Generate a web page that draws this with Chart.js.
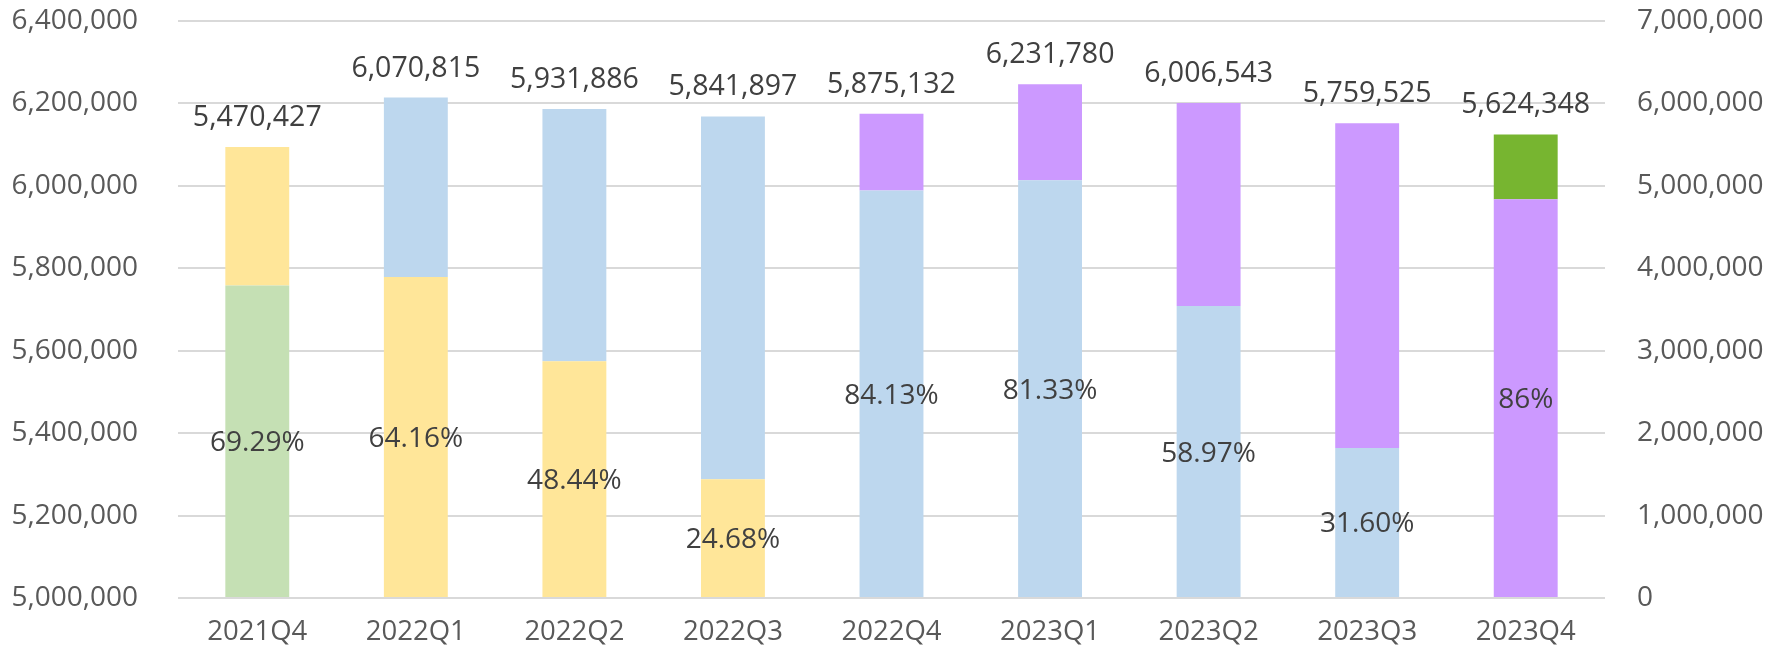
<!DOCTYPE html>
<html>
<head>
<meta charset="utf-8">
<script src="https://cdn.jsdelivr.net/npm/chart.js@4"></script>
<style>
  html, body { margin: 0; padding: 0; background: #fff; }
  #wrap { width: 1781px; height: 655px; }
</style>
</head>
<body>
<div id="wrap"><canvas id="chart"></canvas></div>
<script>
// quarters on the x axis
const categories = ['2021Q4', '2022Q1', '2022Q2', '2022Q3', '2022Q4', '2023Q1', '2023Q2', '2023Q3', '2023Q4'];

// total per quarter (label above each bar)
const totals = [5470427, 6070815, 5931886, 5841897, 5875132, 6231780, 6006543, 5759525, 5624348];

// share of the bottom segment (label inside it)
const shareLabels = ['69.29%', '64.16%', '48.44%', '24.68%', '84.13%', '81.33%', '58.97%', '31.60%', '86%'];

// stacked segments, bottom to top
const lightGreen = [3790459, null, null, null, null, null, null, null, null];
const yellow     = [1679968, 3895035, 2873406, 1441780, null, null, null, null, null];
const blue       = [null, 2175780, 3058480, 4400117, 4942749, 5068307, 3542058, 1820010, null];
const purple     = [null, null, null, null, 932383, 1163473, 2464485, 3939515, 4836939];
const darkGreen  = [null, null, null, null, null, null, null, null, 787409];

// axis ranges
const leftMin = 5000000, leftMax = 6400000, leftStep = 200000;
const rightMin = 0, rightMax = 7000000, rightStep = 1000000;

const FONT = '"Open Sans", sans-serif';
const fmt = v => Number(v).toLocaleString('en-US');

const labelPlugin = {
  id: 'barLabels',
  afterDatasetsDraw(chart) {
    const ctx = chart.ctx;
    const yScale = chart.scales.yRight;
    ctx.save();
    ctx.fillStyle = '#404040';
    ctx.textAlign = 'center';
    ctx.textBaseline = 'alphabetic';
    for (let i = 0; i < categories.length; i++) {
      // bottom segment = first dataset with a value here
      let bottom = null;
      for (let d = 0; d < chart.data.datasets.length; d++) {
        if (chart.data.datasets[d].data[i] != null) {
          bottom = chart.getDatasetMeta(d).data[i];
          break;
        }
      }
      if (!bottom) continue;
      const mid = (bottom.y + bottom.base) / 2;
      ctx.font = '28px ' + FONT;
      ctx.fillText(shareLabels[i], bottom.x, mid + 10);
      const top = yScale.getPixelForValue(totals[i]);
      ctx.font = '28.5px ' + FONT;
      ctx.fillText(fmt(totals[i]), bottom.x, top - 21);
    }
    ctx.restore();
  }
};

const seg = (label, data, color) => ({
  label: label,
  data: data,
  backgroundColor: color,
  borderWidth: 0,
  yAxisID: 'yRight',
  categoryPercentage: 1,
  barPercentage: 0.403
});

new Chart(document.getElementById('chart'), {
  type: 'bar',
  data: {
    labels: categories,
    datasets: [
      seg('A', lightGreen, '#C5E0B4'),
      seg('B', yellow, '#FFE699'),
      seg('C', blue, '#BDD7EE'),
      seg('D', purple, '#CC99FF'),
      seg('E', darkGreen, '#77B530')
    ]
  },
  options: {
    responsive: true,
    maintainAspectRatio: false,
    animation: false,
    layout: { padding: { top: 21, left: 0, right: 0, bottom: 0 } },
    plugins: {
      legend: { display: false },
      tooltip: { enabled: false }
    },
    scales: {
      x: {
        stacked: true,
        grid: { display: false, drawTicks: false },
        border: { display: false },
        ticks: { color: '#595959', font: { family: FONT, size: 27.5 }, padding: 18 },
        afterFit: s => { s.height = 57; s.paddingLeft = 0; s.paddingRight = 0; }
      },
      y: {
        position: 'left',
        min: leftMin,
        max: leftMax,
        grid: { display: false, drawTicks: false },
        border: { display: false },
        ticks: {
          stepSize: leftStep,
          color: '#595959',
          font: { family: FONT, size: 28 },
          padding: 40,
          callback: v => fmt(v)
        },
        afterFit: s => { s.width = 178; s.paddingTop = 0; s.paddingBottom = 0; }
      },
      yRight: {
        position: 'right',
        stacked: true,
        min: rightMin,
        max: rightMax,
        grid: { color: '#D9D9D9', lineWidth: 2, drawTicks: false },
        border: { display: false },
        ticks: {
          stepSize: rightStep,
          color: '#595959',
          font: { family: FONT, size: 28 },
          padding: 32,
          callback: v => fmt(v)
        },
        afterFit: s => { s.width = 176; s.paddingTop = 0; s.paddingBottom = 0; }
      }
    }
  },
  plugins: [labelPlugin]
});
</script>
</body>
</html>
